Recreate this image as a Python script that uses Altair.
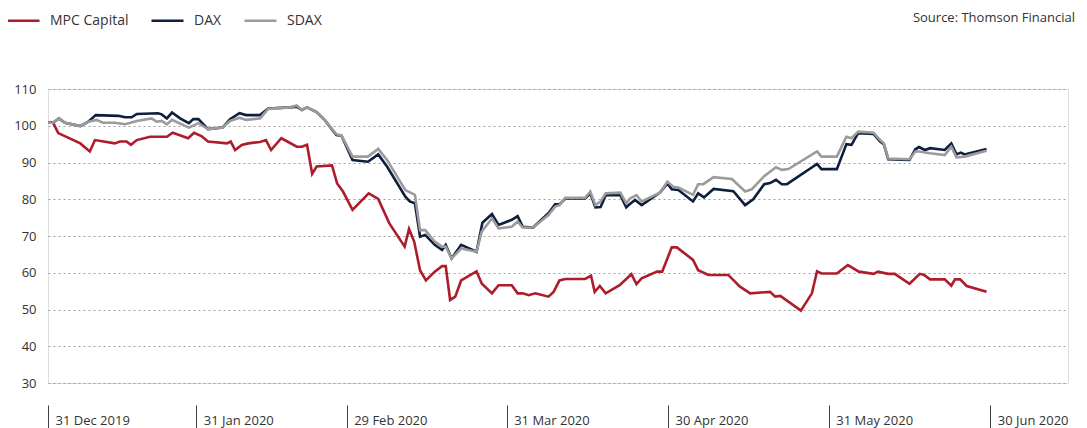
import altair as alt
import pandas as pd

SERIES = ["MPC Capital", "DAX", "SDAX"]
COLORS = ["#AE1C2C", "#0D1F3C", "#9B9B9B"]

# x = trading-day index since 31 Dec 2019
MPC_T = [0.0, 0.7, 1.4, 4.4, 5.7, 6.4, 9.1, 9.8, 10.7, 11.3, 12.1, 13.9, 16.2, 17.0, 19.1, 19.9,
         20.9, 21.8, 24.4, 24.9, 25.5, 26.4, 27.3, 28.9, 29.7, 30.4, 31.8, 33.9, 34.6, 35.3, 36.0,
         36.6, 38.7, 39.4, 40.2, 41.5, 43.7, 45.0, 46.5, 48.6, 49.2, 49.9, 50.7, 51.5, 52.7, 53.7,
         54.2, 54.8, 55.5, 56.3, 58.4, 59.1, 60.5, 61.4, 63.2, 64.0, 64.7, 65.5, 66.4, 68.2, 68.9,
         69.7, 70.5, 73.2, 74.0, 74.5, 75.2, 76.0, 77.9, 79.5, 80.2, 80.9, 83.0, 83.7, 85.0, 85.7,
         87.9, 88.6, 90.0, 92.7, 94.3, 95.7, 98.4, 99.1, 99.8, 102.6, 104.1, 104.8, 105.4, 107.5,
         109.0, 110.5, 112.5, 113.1, 114.5, 115.4, 117.4, 118.8, 119.4, 120.2, 122.2, 123.1, 123.6,
         124.3, 125.2, 127.9]
MPC_V = [100.8, 100.8, 98.0, 95.2, 93.0, 96.1, 95.2, 95.7, 95.7, 94.8, 96.1, 97.0, 97.0, 98.1, 96.6, 98.1,
         97.2, 95.7, 95.2, 95.7, 93.4, 94.8, 95.2, 95.6, 96.1, 93.4, 96.6, 94.3, 94.3, 94.8, 86.9,
         88.9, 89.2, 84.3, 82.1, 77.1, 81.6, 80.1, 73.5, 67.1, 71.9, 68.5, 60.7, 57.9, 60.3, 61.8,
         61.8, 52.6, 53.5, 57.9, 60.4, 57.1, 54.4, 56.6, 56.6, 54.4, 54.4, 53.9, 54.4, 53.5, 54.8,
         57.9, 58.3, 58.3, 59.2, 54.8, 56.4, 54.4, 56.6, 59.6, 56.9, 58.5, 60.3, 60.3, 66.9, 66.9,
         63.5, 60.7, 59.4, 59.4, 56.2, 54.4, 54.8, 53.5, 53.7, 49.7, 54.4, 60.4, 59.8, 59.8,
         62.1, 60.3, 59.7, 60.3, 59.7, 59.7, 57.0, 59.7, 59.4, 58.2, 58.2, 56.5, 58.2,
         58.2, 56.4, 54.8]

DAX_T = [0.0, 0.7, 1.5, 2.3, 4.4, 5.5, 6.5, 9.6, 10.5, 11.4, 12.1, 15.0, 15.5, 16.2, 16.9, 18.0, 19.2,
         19.8, 20.5, 21.8, 23.8, 24.8, 26.1, 27.0, 28.9, 30.0, 33.0, 33.9, 34.6, 35.3, 36.6, 37.7,
         39.3, 40.0, 41.5, 43.6, 45.0, 46.2, 48.7, 49.3, 50.0, 50.7, 51.4, 52.7, 53.7, 54.2, 55.0,
         56.3, 58.4, 59.2, 60.5, 61.4, 63.2, 64.0, 64.7, 66.1, 68.2, 69.1, 69.7, 70.5, 73.2, 73.9,
         74.6, 75.3, 76.0, 78.0, 78.8, 79.3, 80.0, 80.9, 83.4, 84.4, 85.0, 85.9, 87.9, 88.6, 89.4,
         90.7, 93.4, 95.0, 96.1, 97.6, 98.4, 99.2, 100.0, 100.7, 104.8, 105.4, 107.5, 108.8, 109.5,
         110.4, 112.5, 113.4, 113.9, 114.5, 117.4, 118.2, 118.7, 119.5, 120.2, 122.2, 123.1, 123.8,
         124.4, 124.9, 127.9]
DAX_V = [100.8, 100.8, 102.0, 100.8, 99.9, 101.1, 102.9, 102.7, 102.3, 102.3, 103.2, 103.4, 103.1, 102.0,
         103.6, 102.0, 100.7, 101.8, 101.8, 99.1, 99.5, 101.8, 103.4, 102.9, 102.9, 104.7, 105.0, 105.2,
         104.3, 105.0, 103.7, 101.6, 97.5, 97.3, 90.7, 90.2, 92.2, 88.9, 80.7, 79.4, 78.9, 69.8, 70.3,
         67.6, 66.2, 67.6, 63.9, 67.6, 65.7, 73.6, 76.0, 73.0, 74.4, 75.4, 72.5, 72.3, 76.2, 78.6, 78.6,
         80.2, 80.2, 81.6, 77.8, 77.9, 81.1, 81.1, 77.8, 78.7, 79.8, 78.4, 81.8, 84.3, 82.7, 82.5, 79.4,
         81.6, 80.5, 82.8, 82.2, 78.4, 80.0, 84.1, 84.4, 85.3, 84.1, 84.1, 89.6, 88.2, 88.2, 95.0, 94.8,
         98.0, 97.8, 95.7, 95.0, 90.9, 90.7, 93.6, 94.2, 93.4, 93.9, 93.4, 95.2, 92.2, 92.7, 92.2, 93.7]

SDAX_T = [0.0, 0.7, 1.5, 2.3, 4.4, 5.5, 6.6, 7.5, 9.1, 10.5, 12.1, 14.1, 14.8, 15.5, 16.2, 16.9, 19.2,
          20.5, 21.8, 23.8, 24.8, 26.1, 27.0, 28.9, 30.0, 33.0, 33.9, 34.6, 35.3, 36.6, 37.7, 39.3,
          40.0, 41.5, 43.6, 45.0, 46.2, 48.7, 50.0, 50.7, 51.4, 52.7, 53.7, 54.2, 55.0, 56.3, 58.4,
          59.1, 60.5, 61.4, 63.2, 64.0, 64.7, 66.1, 68.2, 69.1, 69.7, 70.5, 73.2, 73.9, 74.6, 75.3,
          76.0, 78.0, 78.8, 79.3, 80.2, 80.9, 83.4, 84.4, 85.2, 85.9, 87.9, 88.6, 89.3, 90.7, 93.2,
          95.0, 95.9, 97.6, 99.2, 100.0, 100.9, 104.8, 105.4, 107.5, 108.8, 109.5, 110.4, 112.5,
          113.4, 113.9, 114.5, 117.4, 118.2, 118.7, 120.2, 122.2, 123.1, 123.8, 124.9, 127.9]
SDAX_V = [100.8, 100.8, 102.0, 100.8, 99.9, 101.1, 101.6, 100.8, 100.8, 100.4, 101.3, 102.0, 101.1, 101.3,
          100.4, 101.6, 99.5, 100.7, 99.1, 99.5, 101.3, 102.2, 101.6, 102.0, 104.6, 105.0, 105.5, 104.3,
          105.0, 103.7, 101.6, 97.7, 97.3, 91.6, 91.6, 93.7, 90.7, 82.5, 81.2, 71.6, 71.6, 68.5, 67.1,
          67.1, 63.9, 66.6, 65.7, 71.2, 74.8, 72.1, 72.5, 73.9, 72.3, 72.3, 75.7, 78.0, 78.4, 80.4, 80.4,
          82.1, 78.4, 79.4, 81.6, 81.8, 78.9, 80.2, 81.1, 79.4, 81.8, 84.8, 83.4, 83.2, 81.2, 84.1, 84.1,
          86.0, 85.5, 82.1, 82.7, 86.3, 88.7, 88.0, 88.2, 93.0, 91.6, 91.6, 97.0, 96.6, 98.4, 98.1,
          96.1, 95.2, 91.1, 90.9, 93.0, 93.0, 92.5, 92.0, 94.3, 91.4, 91.6, 93.2]

TICK_T = [0, 20.2, 40.7, 62.5, 84.5, 106.4, 128.4]
TICK_LABELS = ["31 Dec 2019", "31 Jan 2020", "29 Feb 2020", "31 Mar 2020",
               "30 Apr 2020", "31 May 2020", "30 Jun 2020"]
Y_TICKS = [30, 40, 50, 60, 70, 80, 90, 100, 110]
SOURCE = "Source: Thomson Financial"

FONT = "Open Sans"

frames = []
for name, ts, vs in [("MPC Capital", MPC_T, MPC_V), ("DAX", DAX_T, DAX_V), ("SDAX", SDAX_T, SDAX_V)]:
    frames.append(pd.DataFrame({"t": ts, "value": vs, "series": name}))
df = pd.concat(frames, ignore_index=True)

label_expr = "[" + ",".join("'%s'" % s for s in TICK_LABELS) + "][indexof([" + \
    ",".join(str(v) for v in TICK_T) + "], datum.value)]"

x_enc = alt.X("t:Q",
              scale=alt.Scale(domain=[0, 139], nice=False, zero=False),
              axis=alt.Axis(values=TICK_T, labelExpr=label_expr, title=None, grid=False,
                            domain=False, offset=22, tickSize=24, tickColor="#404040",
                            tickWidth=1, labelAlign="left", labelBaseline="middle",
                            labelPadding=-9, labelOffset=7, labelFontSize=13,
                            labelColor="#333333", labelFont=FONT, labelFlush=False,
                            labelOverlap=False))
y_enc = alt.Y("value:Q",
              scale=alt.Scale(domain=[30, 110], nice=False, zero=False),
              axis=alt.Axis(values=Y_TICKS, title=None, domain=False, ticks=False,
                            labelPadding=12, labelFontSize=13, labelColor="#333333",
                            labelFont=FONT, grid=True, gridColor="#A0A0A0",
                            gridDash=[2, 3], gridWidth=1.2))
c_enc = alt.Color("series:N",
                  scale=alt.Scale(domain=SERIES, range=COLORS),
                  legend=alt.Legend(title=None, orient="none", direction="horizontal",
                                    legendX=-42, legendY=-86, symbolType="stroke",
                                    symbolSize=1024, symbolStrokeWidth=2.5,
                                    labelFontSize=14, labelFont=FONT, labelColor="#333333",
                                    labelOffset=9, columnPadding=17, padding=0,
                                    labelLimit=300))

base = alt.Chart(df).mark_line(strokeWidth=2.6, strokeJoin="miter").encode(
    x=x_enc, y=y_enc, color=c_enc)

layers = [base.transform_filter(alt.datum.series == s) for s in SERIES]

source = alt.Chart(pd.DataFrame({"text": [SOURCE]})).mark_text(
    align="right", baseline="top", fontSize=13, font=FONT, color="#333333"
).encode(x=alt.value(1027), y=alt.value(-77), text="text:N")

chart = alt.layer(*layers, source).properties(
    width=1020, height=294,
    autosize=alt.AutoSizeParams(type="none"),
    padding={"left": 40, "top": 81, "right": 8, "bottom": 45},
).configure_view(stroke=None).configure(background="white")

chart.save("out.html", embed_options={"renderer": "svg", "actions": False})
